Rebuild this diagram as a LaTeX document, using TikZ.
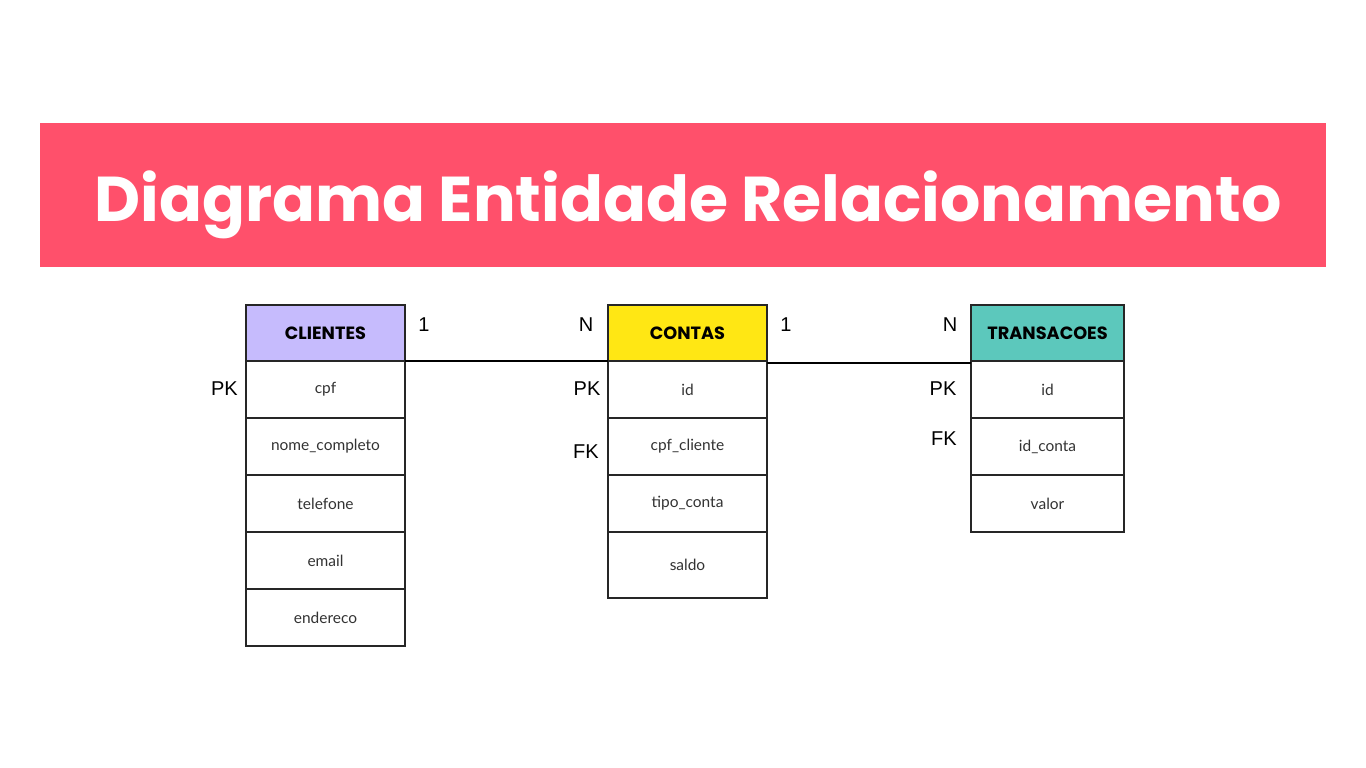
\documentclass[tikz,border=0pt]{standalone}
\usepackage{fontspec}
\setmainfont{Lato}
\newfontfamily\titlefont{Poppins}[Ligatures=NoCommon]
\newfontfamily\markfont{Liberation Sans}
\usepackage{tikz}
\usetikzlibrary{positioning}

\definecolor{banner}{HTML}{FF506B}
\definecolor{lilas}{HTML}{C6BBFD}
\definecolor{amarelo}{HTML}{FFE714}
\definecolor{verde}{HTML}{5CC8BC}

\tikzset{
  cabecalho/.style={draw=black!85, line width=1pt, inner sep=0pt, outer sep=0pt,
    minimum width=119.25pt, minimum height=42pt, font=\titlefont\bfseries\fontsize{13.3}{15}\selectfont},
  campo/.style={draw=black!85, line width=1pt, inner sep=0pt, outer sep=0pt, fill=white,
    minimum width=119.25pt, minimum height=42.75pt, font=\fontsize{11.6}{13}\selectfont, text=black!80},
  chave/.style={font=\markfont\fontsize{15}{17}\selectfont, inner sep=0pt},
  relacao/.style={line width=1.5pt, black}
}

\begin{document}
\begin{tikzpicture}[x=0.75pt, y=-0.75pt]
    \fill[white] (0,0) rectangle (1366,767);
    \useasboundingbox (0,0) rectangle (1366,767);

    % titulo
    \node[fill=banner, minimum width=964.5pt, minimum height=108pt, inner sep=0pt] (faixa) at (683,195) {};
    \node[anchor=base, text=white, font=\titlefont\bfseries\fontsize{47.5}{55}\selectfont] (titulo) at (688,221)
      {Diagrama Entidade Relacionamento};

    % clientes
    \node[cabecalho, fill=lilas] (cli) at (325.5,333) {CLIENTES};
    \foreach \f [count=\i] in {cpf, nome\_completo, telefone, email, endereco}
      \node[campo] (cli\i) at (325.5, {332.5+57*\i}) {\f};

    % contas
    \node[cabecalho, fill=amarelo] (con) at (687.5,333) {CONTAS};
    \foreach \f [count=\i] in {id, cpf\_cliente, tipo\_conta}
      \node[campo] (con\i) at (687.5, {332.5+57*\i}) {\f};
    \node[campo, minimum height=49.5pt] (con4) at (687.5,565) {saldo};

    % transacoes
    \node[cabecalho, fill=verde, minimum width=114.75pt] (tra) at (1047.5,333) {TRANSACOES};
    \foreach \f [count=\i] in {id, id\_conta, valor}
      \node[campo, minimum width=114.75pt] (tra\i) at (1047.5, {332.5+57*\i}) {\f};

    % chaves
    \node[chave, anchor=east] (pkcli) at (238,389) {PK};
    \node[chave] (pkcon) at (587,389) {PK};
    \node[chave] (fkcon) at (586,452) {FK};
    \node[chave] (pktra) at (943,389) {PK};
    \node[chave] (fktra) at (944,439) {FK};

    % relacionamentos
    \draw[relacao] (cli.south east) -- (con.south west);
    \draw[relacao] ([yshift=-1.2pt]con.south east) -- ([yshift=-1.2pt]tra.south west);
    \node[chave] (c1a) at (424,325) {1};
    \node[chave] (cNa) at (586,325) {N};
    \node[chave] (c1b) at (786,325) {1};
    \node[chave] (cNb) at (950,325) {N};
\end{tikzpicture}
\end{document}
